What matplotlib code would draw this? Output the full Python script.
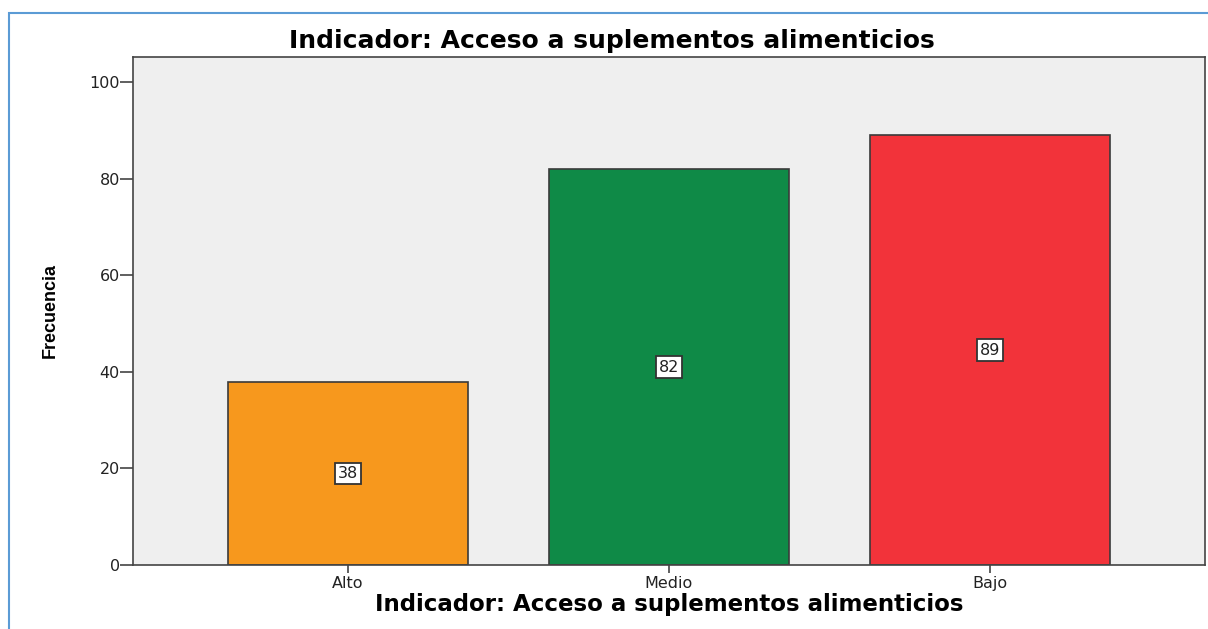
import matplotlib
matplotlib.use("Agg")
import matplotlib.pyplot as plt
from matplotlib.patches import Rectangle

# Frequency chart for the indicator "Acceso a suplementos alimenticios"
categorias = ["Alto", "Medio", "Bajo"]
frecuencias = [38, 82, 89]
colores = ["#f7981d", "#0f8a47", "#f2333a"]
titulo = "Indicador: Acceso a suplementos alimenticios"

# wide sans face, the reference text looks horizontally stretched
plt.rcParams['font.family'] = ['DejaVu Sans']

W, H = 1208, 629
fig = plt.figure(figsize=(W / 100, H / 100), dpi=100)

# Light blue frame around the figure (runs off right/bottom edges)
fig.add_artist(Rectangle((8.5 / W, -0.1), 1.2, 1.1 - 12.5 / H,
                         transform=fig.transFigure, fill=False,
                         edgecolor="#5b9bd5", linewidth=1.5))

ax = fig.add_axes([133 / W, (H - 565) / H, 1072 / W, (565 - 57) / H])
ax.set_facecolor("#efefef")

x = range(len(categorias))
bars = ax.bar(x, frecuencias, width=0.75, color=colores,
              edgecolor="#3a3a3a", linewidth=1.2)

# Value labels in white boxes at mid-height
for xi, v in zip(x, frecuencias):
    ax.text(xi, v / 2, str(v), ha="center", va="center", fontsize=11.5,
            color="#222222",
            bbox=dict(boxstyle="square,pad=0.2", facecolor="white",
                      edgecolor="#333333", linewidth=1.3))

ax.set_xlim(-0.67, 2.67)
ax.set_ylim(0, 105.2)
ax.set_yticks([0, 20, 40, 60, 80, 100])
ax.set_xticks(list(x))
ax.set_xticklabels(categorias)

for s in ax.spines.values():
    s.set_color("#444444")
    s.set_linewidth(1.2)

ax.tick_params(axis="y", length=9.4, width=1.2, color="#444444",
               labelsize=11.5, pad=0, labelcolor="#222222")
ax.tick_params(axis="x", length=6, width=1.2, color="#444444",
               labelsize=11.5, pad=2, labelcolor="#222222")

ax.set_xlabel(titulo, fontsize=16.5, fontweight="bold", labelpad=1)
ax.set_ylabel("Frecuencia", fontsize=13, fontweight="heavy", labelpad=22,
              family=['Liberation Sans', 'DejaVu Sans'])

fig.text(612 / W, 1 - 41 / H, titulo, ha="center", va="center",
         fontsize=18, fontweight="bold")

fig.savefig("out.png", dpi=100)
